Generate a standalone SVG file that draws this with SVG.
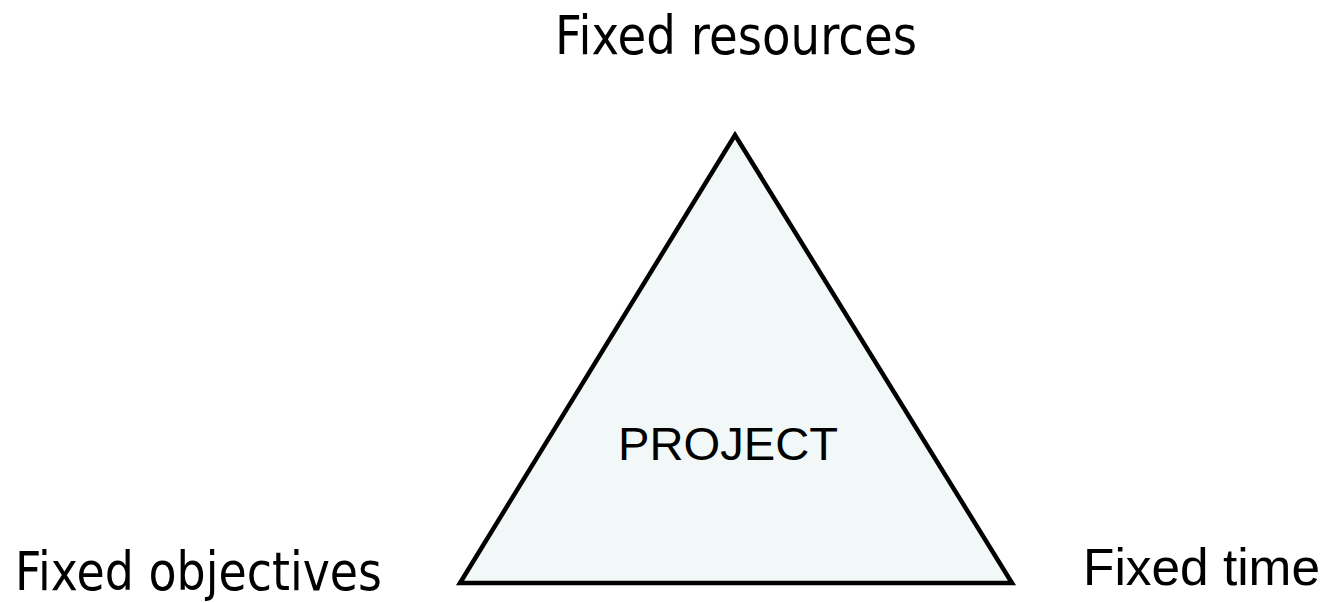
<svg xmlns="http://www.w3.org/2000/svg" width="1328" height="603" viewBox="0 0 1328 603">
  <style>
    .label { font-family: "DejaVu Sans", "Liberation Sans", sans-serif; font-size: 54px; fill: #000; }
    .arial { font-family: "Liberation Sans", Arial, sans-serif; fill: #000; }
    .tri { fill: #f2f7f7; stroke: #000; stroke-width: 4.5; stroke-linejoin: miter; }
  </style>
  <rect width="1328" height="603" fill="#fff"/>
  <g id="project">
    <polygon class="tri" points="460,583 735,135 1012,583"/>
    <text class="arial" x="618" y="460" font-size="47" textLength="220" lengthAdjust="spacingAndGlyphs">PROJECT</text>
  </g>
  <g id="resources">
    <text class="label" x="555" y="54" textLength="362" lengthAdjust="spacingAndGlyphs">Fixed resources</text>
  </g>
  <g id="objectives">
    <text class="label" x="15" y="590" textLength="367" lengthAdjust="spacingAndGlyphs">Fixed objectives</text>
  </g>
  <g id="time">
    <text class="arial" x="1083" y="585" font-size="51.5" textLength="237" lengthAdjust="spacingAndGlyphs">Fixed time</text>
  </g>
  <g id="connectors"></g>
</svg>
